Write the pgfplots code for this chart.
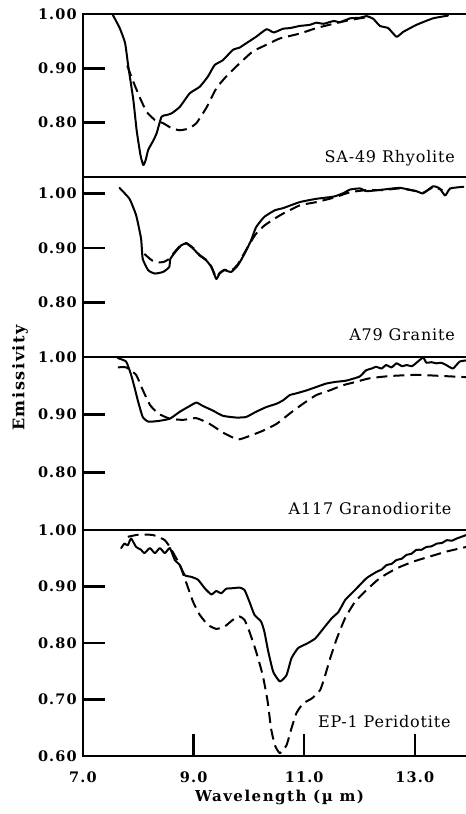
\documentclass[border=0pt]{standalone}
\usepackage{pgfplots}
\pgfplotsset{compat=1.18}
\usepackage{fontspec}
\setmainfont{DejaVu Serif}
\newfontfamily\tickfont[LetterSpace=8]{DejaVu Serif}
\newfontfamily\axfont[LetterSpace=10]{DejaVu Serif}
\newfontfamily\labfont[LetterSpace=5]{DejaVu Serif}

\tikzset{
  sol/.style={black, line width=2bp, smooth, tension=0.3, line join=round, line cap=round},
  dsh/.style={black, line width=2bp, smooth, tension=0.3, line join=round, dash pattern=on 11bp off 6bp},
  plab/.style={font=\labfont\fontsize{16bp}{18bp}\selectfont, inner sep=0pt},
}
\pgfplotsset{
  panel/.style={
    scale only axis, width=393bp,
    xmin=7, xmax=14.107,
    axis line style={line width=2.6bp},
    tick align=inside, major tick length=22bp,
    major tick style={black, line width=2.4bp},
    xtick pos=left, ytick pos=left,
    xtick=\empty,
    /pgf/number format/assume math mode=true,
    yticklabel style={font=\tickfont\bfseries\fontsize{14.5bp}{16bp}\selectfont, inner sep=0pt, xshift=-6bp},
    xticklabel style={font=\tickfont\bfseries\fontsize{14.5bp}{16bp}\selectfont, inner sep=0pt, yshift=-16bp},
  },
}

\begin{document}
\begin{tikzpicture}
\useasboundingbox (0bp,0bp) rectangle (466bp,814bp);

% SA-49 Rhyolite
\begin{axis}[panel, at={(83bp,637bp)}, anchor=south west, height=163bp,
  ymin=0.70, ymax=1.00, ytick={0.80,0.90,1.00}, yticklabels={0.80,0.90,1.00}]
\addplot[sol] coordinates {
 (7.54,0.998) (7.66,0.975) (7.76,0.947) (7.82,0.903) (7.91,0.842) (7.97,0.786)
 (8.04,0.740) (8.09,0.722) (8.13,0.730) (8.18,0.750) (8.26,0.765) (8.33,0.780)
 (8.42,0.811) (8.51,0.814) (8.60,0.817) (8.75,0.829) (8.93,0.854) (9.11,0.866)
 (9.26,0.885) (9.38,0.906) (9.53,0.915) (9.71,0.934) (9.83,0.938) (9.95,0.946)
 (10.13,0.958) (10.32,0.972) (10.45,0.966) (10.62,0.973) (10.74,0.974) (10.92,0.978)
 (11.10,0.980) (11.22,0.984) (11.35,0.982) (11.53,0.987) (11.65,0.985) (11.83,0.992)
 (12.00,0.993) (12.13,0.996) (12.25,0.991) (12.37,0.978) (12.52,0.974) (12.67,0.958)
 (12.79,0.967) (13.03,0.980) (13.33,0.992) (13.60,0.997)
};
\addplot[dsh] coordinates {
 (7.80,0.905) (7.90,0.878) (8.02,0.848) (8.15,0.820) (8.30,0.805) (8.45,0.799)
 (8.60,0.790) (8.75,0.786) (8.90,0.789) (9.05,0.799) (9.24,0.829) (9.41,0.863)
 (9.59,0.885) (9.83,0.909) (10.07,0.931) (10.31,0.943) (10.56,0.955) (10.92,0.964)
 (11.22,0.974) (11.53,0.982) (11.83,0.989) (12.13,0.994)
};
\node[plab, anchor=base east] at (axis description cs:0.9466,0.086) {SA-49 Rhyolite};
\end{axis}

% A79 Granite
\begin{axis}[panel, at={(83bp,457bp)}, anchor=south west, height=180bp,
  ymin=0.70, ymax=1.03, ytick={0.80,0.90,1.00}, yticklabels={0.80,0.90,1.00}]
\addplot[sol] coordinates {
 (7.66,1.010) (7.84,0.990) (7.96,0.960) (8.05,0.917) (8.08,0.880) (8.18,0.859)
 (8.30,0.853) (8.45,0.856) (8.56,0.865) (8.58,0.880) (8.69,0.895) (8.78,0.905)
 (8.87,0.908) (8.99,0.899) (9.11,0.886) (9.23,0.877) (9.32,0.865) (9.41,0.843)
 (9.47,0.853) (9.56,0.859) (9.68,0.856) (9.80,0.868) (9.92,0.889) (10.04,0.914)
 (10.13,0.938) (10.28,0.957) (10.47,0.969) (10.62,0.973) (10.92,0.984) (11.22,0.990)
 (11.53,0.994) (11.70,1.000) (11.83,1.007) (12.01,1.009) (12.13,1.004) (12.43,1.007)
 (12.73,1.010) (13.03,1.004) (13.15,1.000) (13.33,1.013) (13.45,1.009) (13.55,0.996)
 (13.64,1.009) (13.88,1.012)
};
\addplot[dsh] coordinates {
 (8.11,0.889) (8.21,0.880) (8.30,0.874) (8.45,0.874) (8.56,0.880) (8.66,0.893)
 (8.78,0.906) (8.87,0.909) (8.99,0.900) (9.11,0.887) (9.23,0.878) (9.32,0.866)
 (9.41,0.846) (9.47,0.854) (9.56,0.860) (9.68,0.858) (9.80,0.870) (9.92,0.891)
 (10.04,0.912) (10.13,0.926) (10.28,0.941) (10.47,0.954) (10.62,0.963) (10.92,0.978)
 (11.22,0.984) (11.53,0.992) (11.83,1.002) (12.13,1.006) (12.43,1.006) (12.73,1.009)
 (13.03,1.004) (13.15,1.001) (13.33,1.011) (13.50,1.006)
};
\node[plab, anchor=base east] at (axis description cs:0.9466,0.094) {A79 Granite};
\end{axis}

% A117 Granodiorite
\begin{axis}[panel, at={(83bp,284bp)}, anchor=south west, height=173bp,
  ymin=0.70, ymax=1.00, ytick={0.80,0.90,1.00}, yticklabels={0.80,0.90,1.00}]
\addplot[sol] coordinates {
 (7.63,0.998) (7.78,0.992) (7.87,0.969) (7.93,0.948) (7.99,0.925) (8.08,0.896)
 (8.18,0.888) (8.36,0.889) (8.57,0.893) (8.75,0.905) (8.93,0.915) (9.05,0.921)
 (9.17,0.915) (9.35,0.907) (9.53,0.898) (9.77,0.895) (9.95,0.896) (10.13,0.905)
 (10.31,0.913) (10.50,0.919) (10.62,0.925) (10.74,0.934) (10.86,0.937) (11.04,0.942)
 (11.22,0.948) (11.40,0.954) (11.58,0.957) (11.76,0.959) (12.00,0.966) (12.12,0.977)
 (12.22,0.980) (12.30,0.983) (12.40,0.980) (12.48,0.986) (12.58,0.982) (12.67,0.989)
 (12.77,0.984) (12.85,0.986) (12.95,0.984) (13.03,0.990) (13.15,0.999) (13.21,0.990)
 (13.30,0.991) (13.39,0.989) (13.48,0.990) (13.57,0.986) (13.69,0.980) (13.81,0.992)
 (13.93,0.994)
};
\addplot[dsh] coordinates {
 (7.63,0.982) (7.78,0.982) (7.96,0.969) (8.08,0.943) (8.21,0.917) (8.36,0.902)
 (8.57,0.893) (8.81,0.891) (9.05,0.894) (9.29,0.884) (9.53,0.869) (9.80,0.857)
 (10.01,0.863) (10.25,0.872) (10.50,0.884) (10.74,0.902) (10.98,0.919) (11.22,0.934)
 (11.46,0.942) (11.70,0.951) (11.94,0.957) (12.18,0.963) (12.55,0.967) (13.03,0.969)
 (13.51,0.967) (13.93,0.965)
};
\node[plab, anchor=base east] at (axis description cs:0.9381,0.087) {A117 Granodiorite};
\end{axis}

% EP-1 Peridotite
\begin{axis}[panel, at={(83bp,58bp)}, anchor=south west, height=226bp,
  ymin=0.60, ymax=1.00, ytick={0.60,0.70,0.80,0.90,1.00},
  yticklabels={0.60,0.70,0.80,0.90,1.00},
  xtick={7,9,11,13}, xticklabels={7.0,9.0,11.0,13.0},
  xlabel={Wavelength (µ m)},
  xlabel style={font=\axfont\bfseries\fontsize{15bp}{17bp}\selectfont, at={(axis description cs:0.5,0)}, anchor=north, inner sep=0pt, yshift=-34bp}]
\addplot[sol] coordinates {
 (7.69,0.968) (7.75,0.976) (7.81,0.973) (7.87,0.985) (7.96,0.970) (8.05,0.965)
 (8.11,0.959) (8.21,0.968) (8.30,0.959) (8.39,0.968) (8.48,0.959) (8.57,0.968)
 (8.66,0.947) (8.75,0.938) (8.84,0.920) (8.96,0.917) (9.08,0.912) (9.20,0.897)
 (9.32,0.886) (9.41,0.892) (9.50,0.888) (9.59,0.896) (9.71,0.897) (9.83,0.898)
 (9.92,0.894) (10.01,0.873) (10.10,0.850) (10.22,0.838) (10.28,0.820) (10.35,0.785)
 (10.44,0.749) (10.56,0.732) (10.68,0.743) (10.77,0.773) (10.89,0.791) (11.05,0.799)
 (11.20,0.808) (11.35,0.826) (11.50,0.844) (11.62,0.855) (11.74,0.876) (11.86,0.888)
 (11.98,0.900) (12.13,0.915) (12.31,0.926) (12.40,0.930) (12.49,0.938) (12.58,0.940)
 (12.67,0.947) (12.76,0.949) (12.85,0.956) (12.94,0.958) (13.03,0.965) (13.12,0.965)
 (13.21,0.970) (13.30,0.971) (13.40,0.976) (13.49,0.977) (13.58,0.982) (13.67,0.981)
 (13.76,0.985) (13.93,0.991)
};
\addplot[dsh] coordinates {
 (7.81,0.988) (8.02,0.992) (8.27,0.991) (8.48,0.982) (8.60,0.965) (8.75,0.938)
 (8.87,0.906) (8.99,0.873) (9.11,0.850) (9.26,0.832) (9.41,0.825) (9.56,0.829)
 (9.71,0.841) (9.83,0.847) (9.92,0.841) (10.01,0.820) (10.13,0.785) (10.25,0.743)
 (10.34,0.696) (10.40,0.649) (10.47,0.619) (10.56,0.605) (10.68,0.619) (10.77,0.649)
 (10.86,0.676) (10.98,0.693) (11.14,0.702) (11.29,0.717) (11.38,0.743) (11.47,0.773)
 (11.59,0.808) (11.74,0.844) (11.92,0.873) (12.13,0.894) (12.37,0.915) (12.67,0.932)
 (12.97,0.944) (13.27,0.953) (13.58,0.962) (13.93,0.970)
};
\node[plab, anchor=base west] at (axis description cs:0.598,0.128) {EP-1 Peridotite};
\end{axis}

\node[font=\axfont\bfseries\fontsize{16bp}{18bp}\selectfont, rotate=90, inner sep=0pt] at (20bp,436bp) {Emissivity};
\end{tikzpicture}
\end{document}
